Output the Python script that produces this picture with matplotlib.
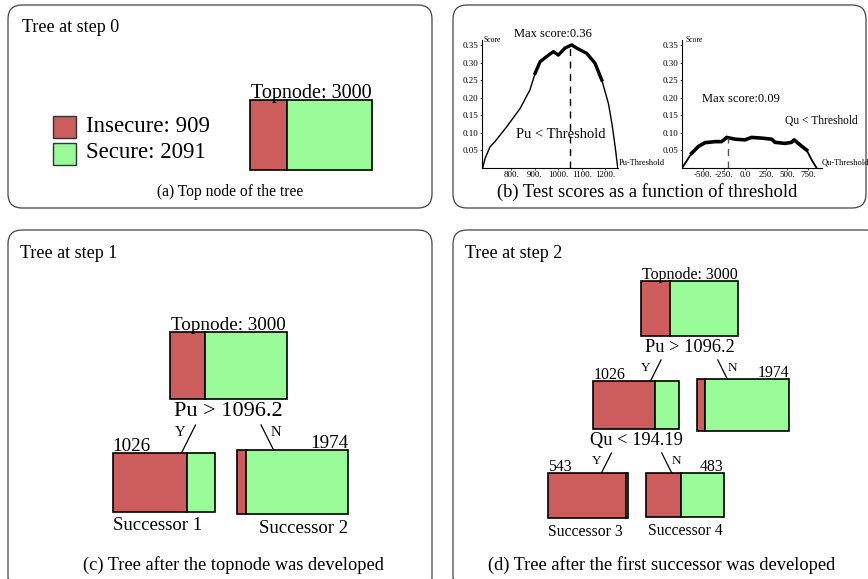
import matplotlib.pyplot as plt
from matplotlib.patches import Rectangle, FancyBboxPatch

plt.rcParams['font.family'] = ['Liberation Serif', 'DejaVu Serif']

RED = '#cd5c5c'
GREEN = '#98fb98'

# tree nodes: total samples and insecure samples
node_labels = ['Topnode', 'Successor 1', 'Successor 2', 'Successor 3', 'Successor 4']
node_total = [3000, 1026, 1974, 543, 483]
node_insecure = [909, 745, 164, 530, 215]
split_rules = ['Pu > 1096.2', 'Qu < 194.19']
class_names = ['Insecure', 'Secure']

# test scores
pu_threshold = [678, 688, 709, 730, 780, 837, 879, 901, 922, 950, 979, 1000,
                1028, 1057, 1078, 1121, 1156, 1185, 1213, 1228, 1242, 1253]
pu_score = [0.0, 0.027, 0.060, 0.075, 0.117, 0.169, 0.222, 0.269, 0.302,
            0.317, 0.331, 0.321, 0.341, 0.350, 0.341, 0.326, 0.298, 0.250,
            0.184, 0.127, 0.060, 0.0]
pu_best = 1050
pu_max = 0.36

qu_threshold = [-750, -714, -635, -556, -476, -357, -278, -218, -119, 0, 79,
                198, 317, 357, 476, 555, 586, 634, 734, 794, 853]
qu_score = [0.0, 0.013, 0.042, 0.061, 0.072, 0.075, 0.075, 0.087, 0.082,
            0.080, 0.087, 0.085, 0.082, 0.073, 0.070, 0.073, 0.080, 0.070,
            0.051, 0.023, 0.0]
qu_best = -206
qu_max = 0.09

score_ticks = [0.05, 0.10, 0.15, 0.20, 0.25, 0.30, 0.35]
pu_ticks = [800, 900, 1000, 1100, 1200]
qu_ticks = [-500, -250, 0, 250, 500, 750]

panel_titles = ['Tree at step 0', 'Tree at step 1', 'Tree at step 2']
captions = ['(a) Top node of the tree',
            '(b) Test scores as a function of threshold',
            '(c) Tree after the topnode was developed',
            '(d) Tree after the first successor was developed']


def node_size(n, base_w, base_h):
    s = (n / node_total[0]) ** 0.12
    return base_w * s, base_h * s


def draw_node(ax, i, cx, top, base_w, base_h):
    w, h = node_size(node_total[i], base_w, base_h)
    left = cx - w / 2
    frac = node_insecure[i] / node_total[i]
    ax.add_patch(Rectangle((left, top), w * frac, h, fc=RED, ec='black', lw=1.2))
    ax.add_patch(Rectangle((left + w * frac, top), w * (1 - frac), h,
                           fc=GREEN, ec='black', lw=1.2))
    return left, top, w, h


def draw_edge(ax, rule_y, child, yes, fs):
    left, top, w, h = child
    if yes:
        x1 = left + 0.67 * w
    else:
        x1 = left + 0.33 * w
    y0 = rule_y + 13
    dx = 0.5 * (top - y0)
    x0 = x1 + dx if yes else x1 - dx
    ax.plot([x0, x1], [y0, top], color='black', lw=0.9)
    if yes:
        ax.text(x0 - 15, y0 + 8, 'Y', fontsize=fs, ha='center', va='center')
    else:
        ax.text(x0 + 15, y0 + 8, 'N', fontsize=fs, ha='center', va='center')


fig = plt.figure(figsize=(8.68, 5.79), dpi=100)
ax = fig.add_axes([0, 0, 1, 1])
ax.set_xlim(0, 868)
ax.set_ylim(579, 0)
ax.axis('off')

# panel frames
for (x, y, w, h) in [(8, 5, 424, 203), (453, 5, 413, 203),
                     (8, 230, 424, 362), (453, 230, 428, 362)]:
    ax.add_patch(FancyBboxPatch((x, y), w, h,
                                boxstyle='round,pad=0,rounding_size=14',
                                fc='none', ec='#444444', lw=0.9))

# ---- (a) ----
ax.text(22, 27, panel_titles[0], fontsize=13, va='center')
for k, col in enumerate([RED, GREEN]):
    ax.add_patch(Rectangle((53, 116 + 27 * k), 23, 22, fc=col, ec='#333333', lw=1))
ax.text(86, 126, f'{class_names[0]}: {node_insecure[0]}', fontsize=16.5, va='center')
ax.text(86, 153, f'{class_names[1]}: {node_total[0] - node_insecure[0]}',
        fontsize=16.5, va='center')
a_top = draw_node(ax, 0, 311, 100, 122, 70)
ax.text(311, 98, f'{node_labels[0]}: {node_total[0]}', fontsize=14.5,
        ha='center', va='baseline')
ax.text(230, 192, captions[0], fontsize=11.2, ha='center', va='center')

# ---- (c) ----
ax.text(20, 253, panel_titles[1], fontsize=13, va='center')
c_top = draw_node(ax, 0, 228.5, 332, 117, 67)
ax.text(228.5, 330, f'{node_labels[0]}: {node_total[0]}', fontsize=13.8,
        ha='center', va='baseline')
ax.text(228.5, 412, split_rules[0], fontsize=16, ha='center', va='center')
c_s1 = draw_node(ax, 1, 164, 453, 117, 67)
c_s2 = draw_node(ax, 2, 292.5, 450, 117, 67)
draw_edge(ax, 412, c_s1, True, 10.5)
draw_edge(ax, 412, c_s2, False, 10.5)
ax.text(c_s1[0], c_s1[1] - 2, str(node_total[1]), fontsize=13.8, va='baseline')
ax.text(c_s2[0] + c_s2[2], c_s2[1] - 2, str(node_total[2]), fontsize=13.8,
        ha='right', va='baseline')
ax.text(c_s1[0], c_s1[1] + c_s1[3] + 5, node_labels[1], fontsize=13.5, va='top')
ax.text(c_s2[0] + c_s2[2], c_s2[1] + c_s2[3] + 6, node_labels[2], fontsize=13.5,
        ha='right', va='top')
ax.text(233, 565, captions[2], fontsize=13.2, ha='center', va='center')

# ---- (d) ----
ax.text(465, 253, panel_titles[2], fontsize=13, va='center')
d_top = draw_node(ax, 0, 689.5, 281, 97, 55)
ax.text(689.5, 279, f'{node_labels[0]}: {node_total[0]}', fontsize=11.5,
        ha='center', va='baseline')
ax.text(689.5, 347, split_rules[0], fontsize=13.2, ha='center', va='center')
d_s1 = draw_node(ax, 1, 636, 381, 97, 55)
d_s2 = draw_node(ax, 2, 743, 379, 97, 55)
draw_edge(ax, 347, d_s1, True, 9.5)
draw_edge(ax, 347, d_s2, False, 9.5)
ax.text(d_s1[0], d_s1[1] - 2, str(node_total[1]), fontsize=11.4, va='baseline')
ax.text(d_s2[0] + d_s2[2], d_s2[1] - 2, str(node_total[2]), fontsize=11.4,
        ha='right', va='baseline')
ax.text(636, 440, split_rules[1], fontsize=13.2, ha='center', va='center')
d_s3 = draw_node(ax, 3, 588, 473, 97, 55)
d_s4 = draw_node(ax, 4, 685, 473, 97, 55)
draw_edge(ax, 440, d_s3, True, 9.5)
draw_edge(ax, 440, d_s4, False, 9.5)
ax.text(d_s3[0], d_s3[1] - 2, str(node_total[3]), fontsize=11.4, va='baseline')
ax.text(d_s4[0] + d_s4[2], d_s4[1] - 2, str(node_total[4]), fontsize=11.4,
        ha='right', va='baseline')
ax.text(d_s3[0], d_s3[1] + d_s3[3] + 6, node_labels[3], fontsize=11.3, va='top')
ax.text(d_s4[0] + 2, d_s4[1] + d_s4[3] + 6, node_labels[4], fontsize=11.3, va='top')
ax.text(662, 565, captions[3], fontsize=13.2, ha='center', va='center')

# ---- (b) ----
ax.text(647, 192, captions[1], fontsize=13.3, ha='center', va='center')


def score_axes(rect, xlim, xticks, xlabels):
    sub = fig.add_axes(rect)
    sub.patch.set_visible(False)
    sub.set_xlim(*xlim)
    sub.set_ylim(0, 0.364)
    for s in ['top', 'right']:
        sub.spines[s].set_visible(False)
    for s in ['left', 'bottom']:
        sub.spines[s].set_linewidth(0.8)
    sub.set_yticks(score_ticks)
    sub.set_yticklabels([f'{v:.2f}' for v in score_ticks])
    sub.set_xticks(xticks)
    sub.set_xticklabels(xlabels)
    sub.tick_params(labelsize=6.5, length=1.5, width=0.5, pad=1)
    return sub


H = 579.0
W = 868.0
pu_ax = score_axes([482 / W, (H - 168) / H, 136 / W, 128 / H], (675, 1254),
                   pu_ticks, [f'{v}.' for v in pu_ticks])
pu_ax.plot(pu_threshold, pu_score, color='black', lw=1.0)
pu_ax.plot(pu_threshold[7:18], pu_score[7:18], color='black', lw=2.4,
           solid_joinstyle='round')
pu_ax.plot([pu_best, pu_best], [0, 0.35], color='black', lw=1, ls=(0, (5, 4)))

qu_ax = score_axes([682 / W, (H - 168) / H, 140 / W, 128 / H], (-750, 917),
                   qu_ticks, ['-500.', '-250.', '0.0', '250.', '500.', '750.'])
qu_ax.plot(qu_threshold, qu_score, color='black', lw=1.3)
qu_ax.plot(qu_threshold[2:19], qu_score[2:19], color='black', lw=2.6,
           solid_joinstyle='round')
qu_ax.plot([qu_best, qu_best], [0, 0.085], color='#555555', lw=1, ls=(0, (5, 4)))

ax.text(484, 42, 'Score', fontsize=5.5)
ax.text(553, 34, f'Max score:{pu_max}', fontsize=9, ha='center', va='center')
ax.text(561, 135, 'Pu < Threshold', fontsize=10.5, ha='center', va='center')
ax.text(619, 163, 'Pu-Threshold', fontsize=6, va='center')
ax.text(685, 42, 'Score', fontsize=5.5)
ax.text(741, 99, f'Max score:{qu_max}', fontsize=9, ha='center', va='center')
ax.text(821, 121, 'Qu < Threshold', fontsize=8.3, ha='center', va='center')
ax.text(822, 163, 'Qu-Threshold', fontsize=6, va='center')

fig.savefig('out.png', dpi=100)
